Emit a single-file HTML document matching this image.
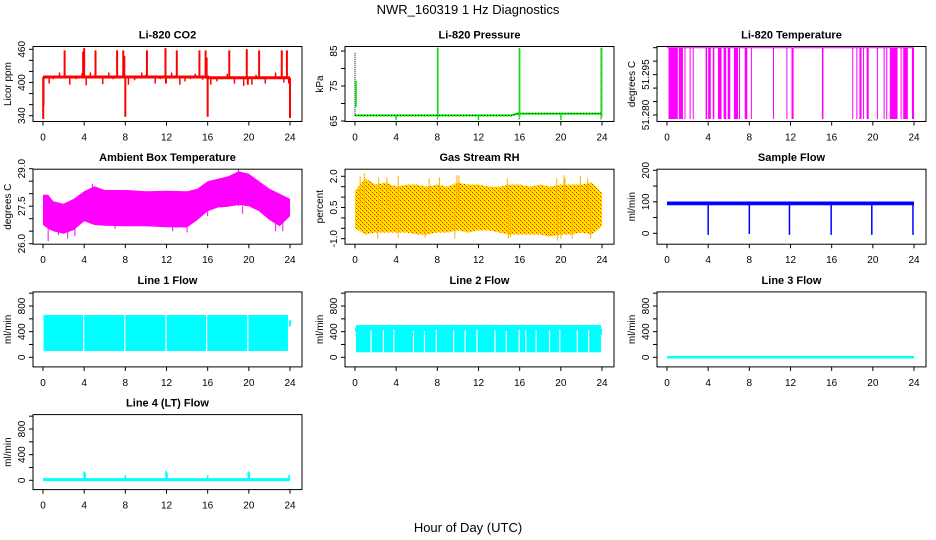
<!DOCTYPE html>
<html><head><meta charset="utf-8">
<style>
html,body{margin:0;padding:0;background:#fff;}
svg{display:block;font-family:"Liberation Sans",Arial,sans-serif;}
</style></head>
<body>
<svg id="chart" width="936" height="540" viewBox="0 0 936 540" xmlns="http://www.w3.org/2000/svg">
<defs>
<pattern id="rhpat" width="4" height="4" patternUnits="userSpaceOnUse">
<rect width="4" height="4" fill="#ffe400"/>
<rect x="0" y="0" width="1" height="1" fill="#ff2000"/>
<rect x="2" y="2" width="1" height="1" fill="#ff2000"/>
<rect x="1" y="1" width="1" height="1" fill="#ffa000"/>
<rect x="3" y="3" width="1" height="1" fill="#ffa000"/>
</pattern>
</defs>
<text x="468" y="14" font-size="13" text-anchor="middle">NWR_160319  1 Hz Diagnostics</text>
<text x="468" y="532" font-size="13" text-anchor="middle">Hour of Day (UTC)</text>
</svg>
<script>
// ---- data ----
const xTicks = [0,4,8,12,16,20,24];
const co2BaseHours = [0,16,16,24];
const co2BaseValues = [410,410,408.5,408.5];
const co2SpikeHours = [0.02,0.05,2.1,3.9,4.0,5.1,7.2,7.8,7.9,8.0,10.1,11.9,11.95,13.0,15.2,15.8,15.9,16.0,18.1,19.8,19.9,21.0,23.2,23.7,23.9,24.0];
const co2SpikeValues = [334,358,458,456,462,458,458,458,448,338,458,462,398,458,458,458,445,338,458,460,396,458,458,458,398,336];
const co2SmallHours = [0.6,1.0,1.6,2.6,3.2,3.8,4.2,4.6,5.8,6.4,6.8,8.3,8.9,9.6,10.0,10.9,11.4,12.5,13.3,13.8,14.3,14.8,15.5,16.3,16.9,17.4,17.9,18.6,19.5,20.3,20.7,21.6,22.2,22.6,23.4];
const co2SmallValues = [398,406,418,396,406,417,395,418,397,418,406,396,404,418,414,398,406,418,396,402,406,416,405,396,402,406,416,398,394,396,414,398,408,418,400];

const presBaseHours = [0,15.2,15.8,24];
const presBaseValues = [66.6,66.6,67.1,67.1];
const presSpikeHours = [0.0,0.1,8.0,8.05,15.95,16.0,23.9,23.97,4.0,12.0,20.0];
const presSpikeLow = [66.5,69,65.5,66,65.5,66,65.5,66,65.3,65.3,65.3];
const presSpikeHigh = [84.5,76.5,86,86,86,85.5,86,86,66.6,66.6,67.1];
const presSpikeDotted = [1,0,1,0,1,0,1,0,0,0,0];

const tempTop = 51.305;
const tempBottom = 51.2785;
const tempStart = [0.15,1.15,1.7,2.2,2.5,3.75,4.0,4.45,4.95,5.5,5.9,6.5,7.0,7.55,8.15,10.3,11.6,12.1,15.05,18.0,18.4,18.7,19.05,19.4,20.4,21.05,21.3,21.65,22.7,22.95,23.8];
const tempEnd =   [1.05,1.55,1.75,2.25,2.55,3.9,4.25,4.6,5.3,5.75,6.15,6.9,7.05,7.8,8.2,10.35,11.65,12.3,15.2,18.05,18.45,18.9,19.1,19.6,20.45,21.1,21.35,22.4,22.75,23.4,24.0];

const ambHours = [0,0.5,1,2,3,4,5,6,8,10,12,14,15,16,17,18,19,20,21,22,23,24];
const ambHigh = [27.96,27.96,27.7,27.6,27.8,28.1,28.3,28.15,28.15,28.1,28.12,28.1,28.2,28.5,28.6,28.7,28.9,28.8,28.5,28.2,28.0,27.8];
const ambLow  = [26.75,26.6,26.5,26.4,26.55,26.9,26.75,26.72,26.7,26.7,26.66,26.65,26.95,27.3,27.45,27.48,27.55,27.5,27.3,26.95,26.7,27.1];
const ambSpikeHours = [0.5,1.5,2.4,3.1,4.8,7.0,12.6,14.0,16.0,19.0,19.4,22.6,23.3];
const ambSpikeValues = [26.1,26.35,26.2,26.3,28.4,26.6,26.5,26.45,27.1,29.0,27.2,26.5,26.5];

const rhHours = [0,1,2,3,4,5,6,7,8,9,10,11,12,13,14,15,16,17,18,19,20,21,22,23,24];
const rhHigh = [1.3,1.9,1.6,1.7,1.5,1.6,1.6,1.5,1.6,1.5,1.7,1.6,1.6,1.5,1.5,1.6,1.6,1.5,1.6,1.5,1.6,1.6,1.6,1.7,1.2];
const rhLow  = [-0.5,-0.8,-0.7,-0.7,-0.7,-0.7,-0.8,-0.8,-0.7,-0.7,-0.6,-0.7,-0.6,-0.6,-0.7,-0.8,-0.8,-0.8,-0.8,-0.9,-0.8,-0.8,-0.7,-0.8,-0.4];
const rhSpikeHours = [0.5,0.9,2.3,3.1,4.2,7.2,8.2,9.9,10.1,14.8,19.6,20.3,20.4,21.9,22.6,2.2,4.2,6.8,9.7,14.9,15.1,19.7,20.0,21.1,22.9];
const rhSpikeValues = [2.0,2.15,1.95,1.95,2.0,1.9,1.95,2.05,2.05,1.9,1.9,2.05,1.9,2.0,1.9,-1.0,-0.95,-0.95,-1.0,-1.0,-0.95,-1.1,-1.0,-1.0,-1.0];

const sampleBandHours = [0,24];
const sampleBandHigh = [101,101];
const sampleBandLow = [89,89];
const sampleDropHours = [4.0,8.0,11.9,15.95,19.9,23.9];
const sampleDropValues = [-5,-2,-5,-5,-5,-5];

const line1Start = 0.05, line1End = 23.8;
const line1High = 659, line1Low = 98;
const line1GapHours = [3.95,7.95,11.95,15.9,19.9];
const line1TailHours = [23.95,24.05];
const line1TailValues = [480,580];

const line2Start = 0.1, line2End = 23.9;
const line2High = 503, line2Low = 78;
const line2GapHours = [1.56,2.76,3.77,5.68,6.75,7.9,9.58,10.7,11.85,13.6,14.7,15.95,16.6,17.6,18.9,19.9,21.6,22.7];
const line2GapTop = [420,420,430,410,410,430,420,420,430,420,410,430,420,420,420,430,420,420];

const line3Hours = [0,24];
const line3Values = [0,0];

const line4Hours = [0,24];
const line4Values = [10,10];
const line4SpikeHours = [4.0,4.1,8.0,11.95,12.05,16.0,19.95,20.05,23.9];
const line4SpikeValues = [140,120,80,150,120,80,140,120,85];

// ---- panel geometry ----
const svg = document.getElementById('chart');
const NS = 'http://www.w3.org/2000/svg';
function el(tag, parent, name) {
  const e = document.createElementNS(NS, tag);
  
  
  parent.appendChild(e);
  return e;
}
function frameLeft(col){ return [33,345,657][col]; }
function frameTop(row){ return 46.5 + 122.7*row; }
const FW = 269, FH = 75;

function makePanel(col,row,title,ylab,v1,o1,v2,o2,ticks,labels,name){
  const L = frameLeft(col), T = frameTop(row);
  const p = {L,T,
    x: h => L + 10 + h*247/24,
    y: v => T + o1 + (v - v1)*(o2 - o1)/(v2 - v1)};
  const g = el('g', svg, name);
  p.g = g;
  const dg = el('g', g, name + '-data');
  p.dg = dg;
  const fr = el('rect', g, name + '-frame');
  fr.setAttribute('x', L); fr.setAttribute('y', T); fr.setAttribute('width', FW); fr.setAttribute('height', FH);
  fr.setAttribute('fill','none'); fr.setAttribute('stroke','#000'); fr.setAttribute('stroke-width','1');
  const tt = el('text', g, name + '-title');
  tt.setAttribute('x', L + FW/2); tt.setAttribute('y', T - 8);
  tt.setAttribute('font-size','11'); tt.setAttribute('font-weight','bold'); tt.setAttribute('text-anchor','middle');
  tt.textContent = title;
  const yl = el('text', g, name + '-y-axis-title');
  yl.setAttribute('transform', `translate(${L-22},${T+FH/2}) rotate(-90)`);
  yl.setAttribute('font-size','10'); yl.setAttribute('text-anchor','middle');
  yl.textContent = ylab;
  xTicks.forEach(h => {
    const X = p.x(h);
    const tk = el('line', g, 'x-tick');
    tk.setAttribute('x1',X); tk.setAttribute('x2',X); tk.setAttribute('y1',T+FH); tk.setAttribute('y2',T+FH+4);
    tk.setAttribute('stroke','#000');
    const lb = el('text', g, 'x-tick-label');
    lb.setAttribute('x',X); lb.setAttribute('y',T+FH+19); lb.setAttribute('font-size','10'); lb.setAttribute('text-anchor','middle');
    lb.textContent = String(h);
  });
  ticks.forEach((v,i) => {
    const Y = p.y(v);
    const tk = el('line', g, 'y-tick');
    tk.setAttribute('x1',L-4); tk.setAttribute('x2',L); tk.setAttribute('y1',Y); tk.setAttribute('y2',Y);
    tk.setAttribute('stroke','#000');
    if (labels[i]) {
      const lb = el('text', g, 'y-tick-label');
      lb.setAttribute('transform', `translate(${L-8},${Y}) rotate(-90)`);
      lb.setAttribute('font-size','10'); lb.setAttribute('text-anchor','middle');
      lb.textContent = labels[i];
    }
  });
  return p;
}
function vline(p,h,a,b,color,w,name,dash){
  const l = el('line', p.dg, name);
  l.setAttribute('x1',p.x(h)); l.setAttribute('x2',p.x(h));
  l.setAttribute('y1',p.y(a)); l.setAttribute('y2',p.y(b));
  l.setAttribute('stroke',color); l.setAttribute('stroke-width',w);
  if (dash) l.setAttribute('stroke-dasharray',dash);
  return l;
}
function polyline(p,hs,vs,color,w,name){
  const l = el('polyline', p.dg, name);
  l.setAttribute('points', hs.map((h,i)=>p.x(h)+','+p.y(vs[i])).join(' '));
  l.setAttribute('fill','none'); l.setAttribute('stroke',color); l.setAttribute('stroke-width',w);
  return l;
}
function band(p,hs,hi,lo,fill,name){
  const pts = hs.map((h,i)=>p.x(h)+','+p.y(hi[i])).concat(hs.map((h,i)=>p.x(h)+','+p.y(lo[i])).reverse());
  const g = el('polygon', p.dg, name);
  g.setAttribute('points', pts.join(' ')); g.setAttribute('fill', fill);
  return g;
}
function rectH(p,h1,h2,a,b,fill,name){
  const r = el('rect', p.dg, name);
  r.setAttribute('x', p.x(h1)); r.setAttribute('width', Math.max(1, p.x(h2)-p.x(h1)));
  r.setAttribute('y', p.y(b)); r.setAttribute('height', p.y(a)-p.y(b));
  r.setAttribute('fill', fill);
  return r;
}

// CO2
const pCO2 = makePanel(0,0,'Li-820 CO2','Licor ppm',460,2.8,340,69.2,[340,360,380,400,420,440,460],['340','','','400','','','460'],'co2-panel');
co2SmallHours.forEach((h,i)=>vline(pCO2,h,co2BaseValues[0],co2SmallValues[i],'#ff0000',1.5,'co2-small-spike'));
co2SpikeHours.forEach((h,i)=>vline(pCO2,h,h<16?co2BaseValues[0]:co2BaseValues[3],co2SpikeValues[i],'#ff0000',2,'co2-spike'));
polyline(pCO2,co2BaseHours,co2BaseValues,'#ff0000',3,'co2-line');

// Pressure
const pPres = makePanel(1,0,'Li-820 Pressure','kPa',85,4.5,65,74.5,[65,70,75,80,85],['65','','75','','85'],'pressure-panel');
polyline(pPres,presBaseHours,presBaseValues,'#00ee00',2,'pressure-line');
polyline(pPres,presBaseHours,presBaseValues,'#000',1,'pressure-line-dots').setAttribute('stroke-dasharray','1,2');
presSpikeHours.forEach((h,i)=>vline(pPres,h,presSpikeLow[i],presSpikeHigh[i],presSpikeDotted[i]?'#000':'#00ee00',presSpikeDotted[i]?1:1.5,'pressure-spike',presSpikeDotted[i]?'1,1':null));

// Temperature
const pTemp = makePanel(2,0,'Li-820 Temperature','degrees C',51.305,1.2,51.280,68.5,[51.280,51.285,51.290,51.295,51.300,51.305],['51.280','','','51.295','',''],'temperature-panel');
polyline(pTemp,[0,24],[tempTop,tempTop],'#ff00ff',1,'temperature-line');
tempStart.forEach((h,i)=>rectH(pTemp,h,tempEnd[i],tempBottom,tempTop,'#ff00ff','temperature-block'));

// Ambient
const pAmb = makePanel(0,1,'Ambient Box Temperature','degrees C',29,-0.5,26,74.5,[26,26.5,27,27.5,28,28.5,29],['26.0','','','27.5','','','29.0'],'ambient-panel');
band(pAmb,ambHours,ambHigh,ambLow,'#ff00ff','ambient-band');
ambSpikeHours.forEach((h,i)=>vline(pAmb,h,27.5,ambSpikeValues[i],'#ff00ff',1,'ambient-spike'));

// RH
const pRH = makePanel(1,1,'Gas Stream RH','percent',2.0,7.1,-1.0,69.5,[-1,-0.5,0,0.5,1,1.5,2],['-1.0','','','0.5','','','2.0'],'rh-panel');
band(pRH,rhHours,rhHigh,rhLow,'url(#rhpat)','rh-band');
rhSpikeHours.forEach((h,i)=>vline(pRH,h,0.5,rhSpikeValues[i],'#ffb000',1,'rh-spike',null));

// Sample flow
const pSamp = makePanel(2,1,'Sample Flow','ml/min',200,1.1,0,64.1,[0,50,100,150,200],['0','','100','','200'],'sample-flow-panel');
band(pSamp,sampleBandHours,sampleBandHigh,sampleBandLow,'#0000ff','sample-band');
sampleDropHours.forEach((h,i)=>vline(pSamp,h,95,sampleDropValues[i],'#0000ff',1.5,'sample-drop'));

// Line flows
const flowTicks = [0,200,400,600,800,1000];
const flowLabels = ['0','','400','','800',''];
const pL1 = makePanel(0,2,'Line 1 Flow','ml/min',800,14.1,0,65.4,flowTicks,flowLabels,'line1-flow-panel');
rectH(pL1,line1Start,line1End,line1Low,line1High,'#00ffff','line1-band');
line1GapHours.forEach(h=>vline(pL1,h,line1Low-20,line1High+20,'#ffffff',1.2,'line1-gap'));
polyline(pL1,line1TailHours,line1TailValues,'#00ffff',2,'line1-tail');

const pL2 = makePanel(1,2,'Line 2 Flow','ml/min',800,14.1,0,65.4,flowTicks,flowLabels,'line2-flow-panel');
rectH(pL2,line2Start,line2End,line2Low,line2High,'#00ffff','line2-band');
rectH(pL2,0,line2Start,400,460,'#00ffff','line2-start');
line2GapHours.forEach((h,i)=>vline(pL2,h,line2Low-10,line2GapTop[i],'#ffffff',1.2,'line2-gap'));
rectH(pL2,23.9,24,350,450,'#00ffff','line2-tail');

const pL3 = makePanel(2,2,'Line 3 Flow','ml/min',800,14.1,0,65.4,flowTicks,flowLabels,'line3-flow-panel');
polyline(pL3,line3Hours,line3Values,'#00ffff',2.5,'line3-line');

const pL4 = makePanel(0,3,'Line 4 (LT) Flow','ml/min',800,14.4,0,65.7,flowTicks,flowLabels,'line4-flow-panel');
polyline(pL4,line4Hours,line4Values,'#00ffff',3,'line4-line');
line4SpikeHours.forEach((h,i)=>vline(pL4,h,10,line4SpikeValues[i],'#00ffff',1.5,'line4-spike'));
</script>
</body></html>
